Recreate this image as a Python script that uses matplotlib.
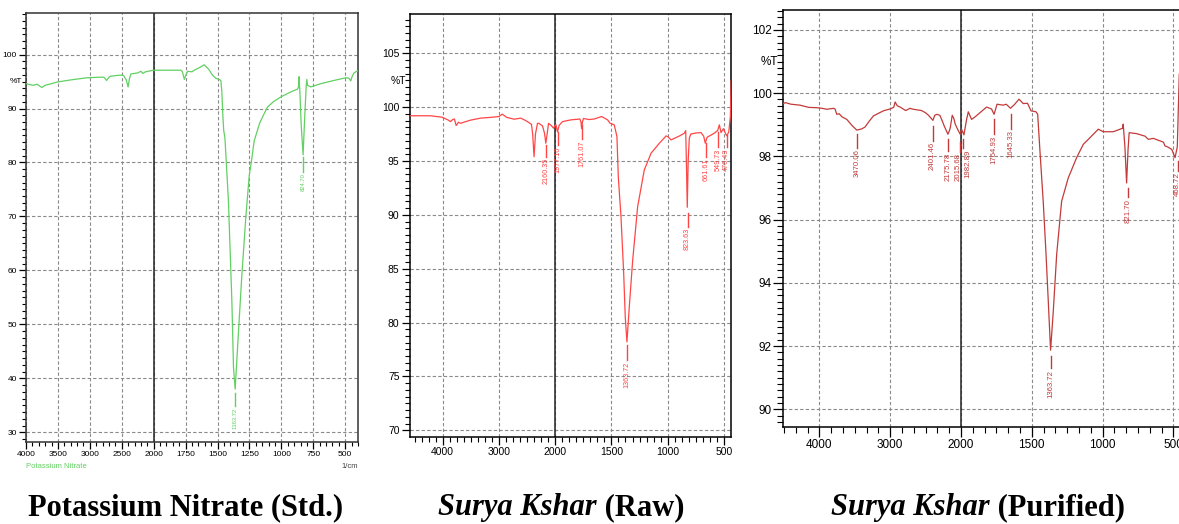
import numpy as np
import matplotlib
matplotlib.use("Agg")
import matplotlib.pyplot as plt
from matplotlib import font_manager
from matplotlib.ticker import FixedLocator, AutoMinorLocator, NullFormatter


# Potassium nitrate standard (wavenumber 1/cm, %T)
kno3_wn = [4000, 3930, 3885, 3830, 3790, 3752, 3700, 3600, 3515, 3300, 3042, 2850, 2780,
           2737, 2700, 2670, 2516, 2470, 2430, 2401, 2380, 2358, 2250, 2200, 2170, 2130,
           2000, 1786, 1775, 1760, 1748, 1734, 1700, 1682, 1640, 1605, 1570, 1540, 1514,
           1488, 1474, 1466, 1459, 1452, 1442, 1415, 1388, 1375, 1362, 1340, 1310, 1278,
           1252, 1230, 1213, 1170, 1140, 1108, 1060, 1000, 950, 904, 873, 866, 862, 855,
           845, 830, 818, 806, 801, 795, 770, 692, 588, 496, 470, 457, 445, 431, 404, 400]
kno3_t = [94.6, 94.4, 94.3, 94.5, 94.2, 93.9, 94.3, 94.6, 94.9, 95.3, 95.7, 95.8, 95.8,
          95.2, 95.8, 96.0, 96.2, 96.1, 95.3, 94.0, 95.5, 96.4, 96.6, 96.9, 96.5, 96.8,
          97.1, 97.1, 96.8, 95.4, 96.2, 96.9, 96.8, 97.1, 97.6, 98.1, 97.3, 96.2, 95.6,
          95.4, 95.2, 93.0, 89.0, 86.0, 84.5, 73.0, 54.5, 42.0, 38.0, 47.0, 59.0, 70.0,
          77.5, 81.0, 84.0, 87.3, 88.8, 90.3, 91.3, 92.2, 92.8, 93.3, 93.6, 94.0, 95.9, 93.0,
          87.0, 81.4, 88.0, 94.0, 95.4, 94.3, 94.0, 94.6, 95.2, 95.7, 95.6, 95.1, 96.0, 96.6, 97.0, 97.0]
kno3_peaks = [1362, 830]
kno3_labels = ["1363.72", "824.70"]
kno3_tops = [37.3, 81.0]
kno3_bots = [34.8, 78.2]

# Surya Kshar raw
raw_wn = [4580, 4400, 4220, 4011, 3900, 3862, 3820, 3791, 3760, 3743, 3720, 3680, 3625,
          3500, 3327, 3150, 3000, 2940, 2860, 2780, 2732, 2612, 2540, 2493, 2421, 2400,
          2375, 2350, 2314, 2290, 2225, 2190, 2166, 2140, 2118, 2070, 2029, 1994, 1979,
          1965, 1949, 1934, 1860, 1780, 1770, 1765, 1758, 1748, 1700, 1653, 1587, 1534,
          1511, 1475, 1451, 1439, 1415, 1391, 1377, 1362, 1341, 1311, 1267, 1208, 1148,
          1074, 1014, 1000, 970, 900, 852, 840, 834, 826, 818, 808, 795, 750, 704, 680,
          666, 650, 586, 556, 541, 526, 505, 490, 475, 457, 443, 436]
raw_t = [99.2, 99.2, 99.2, 99.07, 98.8, 98.66, 98.85, 98.9, 98.3, 98.4, 98.6, 98.5, 98.6,
         98.8, 98.98, 99.05, 99.13, 99.35, 99.05, 98.95, 98.88, 98.98, 98.8, 98.66, 98.4, 97.5,
         95.4, 97.5, 98.5, 98.5, 98.26, 97.6, 96.65, 97.6, 98.5, 98.3, 98.05, 98.4, 97.7,
         98.3, 98.5, 98.66, 98.82, 98.9, 98.6, 98.0, 98.6, 98.95, 98.85, 98.9, 99.13, 98.82,
         98.5, 98.36, 97.27, 93.55, 89.83, 84.57, 80.5, 78.2, 81.5, 85.8, 90.76, 94.17, 95.72,
         96.65, 97.33, 97.27, 96.96, 97.3, 97.58, 97.83, 95.0, 90.7, 95.0, 97.1, 97.5, 97.6, 97.64, 97.3,
         96.65, 97.2, 97.58, 97.83, 98.36, 97.64, 98.0, 97.64, 97.33, 97.7, 99.13, 102.5]
raw_peaks = [2160.35, 1977.10, 1761.07, 1363.72, 823.63, 661.61, 549.73, 476.43]
raw_labels = ["2160.35", "1977.10", "1761.07", "1363.72", "823.63", "661.61", "549.73", "476.43"]
raw_tops = [96.5, 97.7, 98.3, 77.9, 90.2, 96.7, 97.7, 97.4]
raw_bots = [95.4, 96.5, 97.0, 76.5, 88.9, 95.4, 96.3, 96.3]

# Surya Kshar purified
pur_wn = [4509, 4480, 4400, 4273, 4150, 4037, 3960, 3895, 3800, 3778, 3754, 3720, 3680,
          3612, 3540, 3471, 3400, 3354, 3300, 3236, 3150, 3095, 3000, 2950, 2929, 2900,
          2859, 2780, 2720, 2670, 2557, 2500, 2458, 2396, 2370, 2340, 2298, 2260, 2236,
          2184, 2165, 2151, 2123, 2100, 2081, 2034, 2010, 1995, 1979, 1960, 1948, 1925,
          1900, 1866, 1819, 1784, 1766, 1745, 1702, 1680, 1650, 1620, 1590, 1560, 1530,
          1505, 1470, 1458, 1442, 1419, 1400, 1383, 1367, 1348, 1324, 1289, 1242, 1183,
          1136, 1089, 1030, 995, 924, 858, 854, 842, 830, 820, 812, 760, 700, 677, 641,
          594, 570, 559, 540, 511, 488, 472, 466, 458]
pur_t = [99.67, 99.7, 99.65, 99.62, 99.55, 99.54, 99.52, 99.49, 99.52, 99.5, 99.33, 99.35, 99.25,
         99.17, 98.98, 98.83, 98.87, 98.93, 99.1, 99.28, 99.38, 99.44, 99.5, 99.55, 99.72, 99.6,
         99.56, 99.45, 99.52, 99.49, 99.45, 99.38, 99.3, 99.14, 99.3, 99.33, 99.3, 99.1, 98.96,
         98.7, 98.8, 98.9, 99.3, 99.2, 99.02, 98.8, 98.7, 98.85, 98.68, 99.17, 99.41, 99.17,
         99.25, 99.38, 99.56, 99.5, 99.33, 99.65, 99.62, 99.65, 99.52, 99.65, 99.81, 99.67, 99.68,
         99.44, 99.41, 99.33, 98.17, 96.58, 94.99, 93.4, 91.87, 93.09, 94.89, 96.58, 97.32, 97.96,
         98.38, 98.59, 98.86, 98.78, 98.78, 98.89, 99.02, 98.3, 97.16, 98.2, 98.75, 98.72, 98.64, 98.54, 98.57,
         98.49, 98.45, 98.33, 98.3, 98.22, 97.96, 98.3, 99.3, 100.6]
pur_peaks = [3470.06, 2401.46, 2175.78, 2015.68, 1982.89, 1764.93, 1645.33, 1363.72, 821.70, 468.72]
pur_labels = ["3470.06", "2401.46", "2175.78", "2015.68", "1982.89", "1764.93", "1645.33",
              "1363.72", "821.70", "468.72"]
pur_tops = [98.7, 98.96, 98.54, 98.45, 98.54, 99.17, 99.33, 91.7, 97.0, 97.85]
pur_bots = [98.27, 98.49, 98.17, 98.15, 98.25, 98.7, 98.86, 91.3, 96.7, 97.55]
pur_dx = [0, 0, 0, -1.5, 3.5, 0, 0, 0, 0, 0]


names = {f.name for f in font_manager.fontManager.ttflist}
TICKFONT = "Liberation Sans Narrow" if "Liberation Sans Narrow" in names else "Liberation Sans"


def fwd(x):
    x = np.asarray(x, dtype=float)
    return np.where(x > 2000, 2000 + (x - 2000) / 2, x)


def inv(y):
    y = np.asarray(y, dtype=float)
    return np.where(y > 2000, 2000 + (y - 2000) * 2, y)


def panel(rect, wn, t, color, xlim, ylim, xmaj, xmin, ymaj, ynminor, fs, tlen,
          ylab_T, hide_right=False, spine_col="black"):
    ax = fig.add_axes(rect)
    ax.set_xscale("function", functions=(fwd, inv))
    ax.plot(wn, t, color=color, lw=0.9, zorder=3)
    ax.set_xlim(*xlim)
    ax.set_ylim(*ylim)
    ax.xaxis.set_major_locator(FixedLocator(xmaj))
    ax.xaxis.set_minor_locator(FixedLocator(xmin))
    ax.xaxis.set_minor_formatter(NullFormatter())
    ax.set_xticklabels([str(v) for v in xmaj])
    ax.yaxis.set_major_locator(FixedLocator(ymaj))
    ax.yaxis.set_minor_locator(AutoMinorLocator(ynminor))
    ax.set_yticklabels([str(v) for v in ymaj])
    ax.grid(True, which="major", color="#8a8a8a", ls=(0, (3, 2)), lw=0.8)
    ax.axvline(2000, color="#222222", lw=1.1, zorder=2)
    ax.tick_params(which="major", direction="out", length=tlen, width=0.9,
                   labelsize=fs, pad=1.5, colors="black")
    ax.tick_params(which="minor", direction="out", length=tlen * 0.6, width=0.8)
    for lab in ax.get_xticklabels() + ax.get_yticklabels():
        lab.set_fontfamily(TICKFONT)
    for s in ax.spines.values():
        s.set_color(spine_col)
        s.set_linewidth(1.1)
    if hide_right:
        ax.spines["right"].set_visible(False)
    ax.text(-0.012, ylab_T, "%T", transform=ax.get_yaxis_transform(), ha="right",
            va="center", fontsize=fs, family=TICKFONT)
    return ax


def peaks(ax, xs, labels, tops, bots, color, fs, dx=None):
    for i, (x, lab, t0, t1) in enumerate(zip(xs, labels, tops, bots)):
        ax.plot([x, x], [t0, t1], color=color, lw=1.0, zorder=3)
        off = dx[i] if dx else 0
        ax.annotate(lab, xy=(x, t1), xytext=(off, -1), textcoords="offset points",
                    rotation=90, ha="center", va="top", fontsize=fs, color=color,
                    family=TICKFONT, annotation_clip=False)


fig = plt.figure(figsize=(11.79, 5.24), dpi=100)
W, H = 1179, 524

green = "#62d062"
red = "#ff4646"
brown = "#c23a3a"

# left panel
ax1 = panel([26 / W, (H - 442) / H, 332 / W, 429 / H], kno3_wn, kno3_t, green,
            (4000, 400), (28.2, 107.7),
            [4000, 3500, 3000, 2500, 2000, 1750, 1500, 1250, 1000, 750, 500],
            list(range(4000, 2000, -100)) + list(range(2000, 399, -50)),
            [30, 40, 50, 60, 70, 80, 90, 100], 8, 6, 5, 95, spine_col="#333333")
peaks(ax1, kno3_peaks, kno3_labels, kno3_tops, kno3_bots, green, 4.2)
ax1.text(0.0, -0.056, "Potassium Nitrate", transform=ax1.transAxes, color=green,
         fontsize=5.5, family=TICKFONT, va="center", ha="left")
ax1.text(1.0, -0.056, "1/cm", transform=ax1.transAxes, color="#444444",
         fontsize=5.5, family=TICKFONT, va="center", ha="right")

# middle panel
ax2 = panel([410 / W, (H - 436.7) / H, 320.7 / W, 422.7 / H], raw_wn, raw_t, red,
            (4580, 440), (69.4, 108.65),
            [4000, 3000, 2000, 1500, 1000, 500],
            list(np.arange(4500, 2000, -125)) + list(np.arange(2000, 439, -62.5)),
            [70, 75, 80, 85, 90, 95, 100, 105], 8, 7.5, 6, 102.4)
peaks(ax2, raw_peaks, raw_labels, raw_tops, raw_bots, red, 5.2)

# right panel (the x axis runs past the picture's right edge, as in the scan)
ax3 = panel([783.3 / W, (H - 426.7) / H, (W - 783.3) / W, 416.7 / H], pur_wn, pur_t, brown,
            (4509, 460), (89.45, 102.63),
            [4000, 3000, 2000, 1500, 1000, 500],
            list(np.arange(4500, 2000, -1000 / 6)) + list(np.arange(2000, 459, -500 / 6)),
            [90, 92, 94, 96, 98, 100, 102], 10, 8.5, 7, 101.0, hide_right=True)
peaks(ax3, pur_peaks, pur_labels, pur_tops, pur_bots, brown, 5.6, pur_dx)

# captions
cap = dict(fontsize=22, family="Liberation Serif", weight="bold", va="center")
fig.text(186 / W, 1 - 508 / H, "Potassium Nitrate (Std.)", ha="center", **cap)
fig.canvas.draw()
rend = fig.canvas.get_renderer()
for cx, rest in [(561, " (Raw)"), (978, " (Purified)")]:
    a = fig.text(0, 1 - 508 / H, "Surya Kshar", style="italic", ha="left", **cap)
    b = fig.text(0, 1 - 508 / H, rest, ha="left", **cap)
    wa = a.get_window_extent(rend).width
    wb = b.get_window_extent(rend).width
    x0 = cx - (wa + wb) / 2
    a.set_x(x0 / W)
    b.set_x((x0 + wa) / W)

fig.savefig("out.png", dpi=100)
